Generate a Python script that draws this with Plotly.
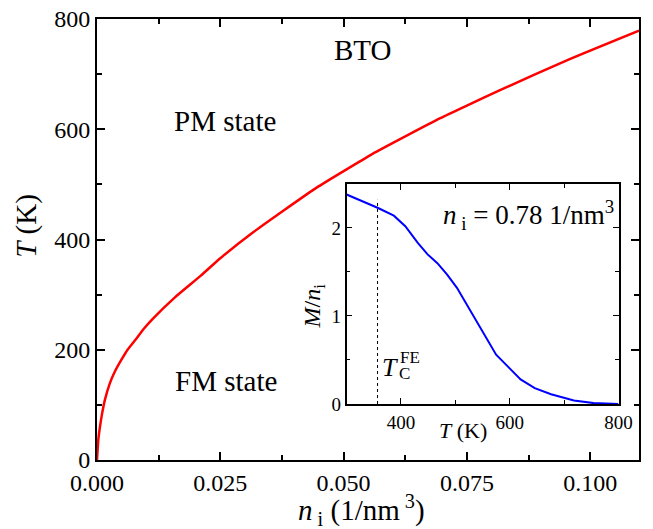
import plotly.graph_objects as go

# Phase boundary T(n_i) for BTO
n_i = [0.0, 0.00026, 0.0006, 0.00105, 0.0016, 0.0026, 0.0036, 0.0049, 0.0062,
       0.0078, 0.0095, 0.0113, 0.0158, 0.021, 0.025, 0.0318, 0.044, 0.05,
       0.0558, 0.0696, 0.075, 0.0815, 0.0955, 0.1099]
T_boundary = [0, 36, 60, 85, 109, 139, 160, 181, 200,
              218, 238, 256, 295, 334, 366, 414, 491, 524,
              555, 620, 643, 670, 726, 779]

# Inset: magnetization per impurity vs temperature at n_i = 0.78 1/nm^3
T_inset = [300, 357, 387, 408, 431, 449, 467, 485, 503, 521, 539, 557, 575,
           599, 620, 646, 676, 718, 754, 800]
M_over_n = [2.38, 2.23, 2.14, 2.02, 1.83, 1.70, 1.60, 1.47, 1.32, 1.13, 0.94,
            0.75, 0.56, 0.41, 0.28, 0.18, 0.11, 0.04, 0.01, 0.0]
T_C_FE = 357

FONT = "Liberation Serif, Times New Roman, Times, serif"

fig = go.Figure()
fig.add_trace(go.Scatter(x=n_i, y=T_boundary, mode="lines", line_shape="spline",
                         line=dict(color="#ff0000", width=2.5, smoothing=0.5),
                         xaxis="x", yaxis="y", showlegend=False))
fig.add_trace(go.Scatter(x=T_inset, y=M_over_n, mode="lines",
                         line=dict(color="#0000ff", width=2),
                         xaxis="x2", yaxis="y2", showlegend=False))
fig.add_trace(go.Scatter(x=[T_C_FE, T_C_FE], y=[0, 2.32], mode="lines",
                         line=dict(color="black", width=1, dash="dot"),
                         xaxis="x2", yaxis="y2", showlegend=False))

main_ax = dict(showline=True, linecolor="black", linewidth=2, mirror="allticks",
               ticks="inside", ticklen=8, tickwidth=1.5, tickcolor="black",
               showgrid=False, zeroline=False,
               tickfont=dict(family=FONT, size=24, color="black"))
inset_ax = dict(showline=True, linecolor="black", linewidth=1.5, mirror="allticks",
                ticks="inside", ticklen=6, tickwidth=1.2, tickcolor="black",
                showgrid=False, zeroline=False,
                tickfont=dict(family=FONT, size=19, color="black"))

xd = [0.4604, 0.9622]
yd = [0.127, 0.6259]

fig.update_layout(
    width=653, height=529,
    margin=dict(l=97, r=0, t=19, b=69),
    paper_bgcolor="white", plot_bgcolor="white",
    font=dict(family=FONT, color="black"),
    xaxis=dict(range=[0, 0.1099], tickvals=[0, 0.025, 0.05, 0.075, 0.1],
               ticktext=["0.000", "0.025", "0.050", "0.075", "0.100"],
               minor=dict(dtick=0.0125, ticks="inside", ticklen=5, tickwidth=1.5, tickcolor="black"),
               **main_ax),
    yaxis=dict(range=[0, 800], tickvals=[0, 200, 400, 600, 800],
               minor=dict(dtick=100, ticks="inside", ticklen=5, tickwidth=1.5, tickcolor="black"),
               **main_ax),
    xaxis2=dict(domain=xd, anchor="y2", range=[300, 800], tickvals=[400, 600, 800],
                minor=dict(dtick=100, ticks="inside", ticklen=4, tickwidth=1.2, tickcolor="black"),
                **inset_ax),
    yaxis2=dict(domain=yd, anchor="x2", range=[0, 2.5], tickvals=[0, 1, 2],
                minor=dict(dtick=0.5, ticks="inside", ticklen=4, tickwidth=1.2, tickcolor="black"),
                **inset_ax),
    shapes=[dict(type="rect", xref="paper", yref="paper", x0=xd[0], x1=xd[1],
                 y0=yd[0], y1=yd[1], fillcolor="white", line=dict(width=0), layer="below")],
)

def px(xp, yp):
    return ((xp - 97) / 556, (460 - yp) / 441)

def txt(xp, yp, s, size, angle=0):
    x0, y0 = px(xp, yp)
    fig.add_annotation(x=x0, y=y0, xref="paper", yref="paper", text=s, showarrow=False,
                       textangle=angle, xanchor="center", yanchor="middle",
                       font=dict(family=FONT, size=size, color="black"))

# Axis titles
txt(368, 510, "<i>n</i><sub> i</sub> (1/nm<sup> 3</sup>)", 29)
txt(25, 226, "<i>T</i> (K)", 29, angle=-90)

# Region labels
txt(369, 50, "BTO", 29)
txt(228, 121, "PM state", 29)
txt(229, 381, "FM state", 29)

# Inset labels
txt(472, 430, "<i>T</i> (K)", 22)
txt(320, 306, "<i>M</i>/<i>n</i><sub>i</sub>", 24, angle=-90)
txt(540, 215, "<i>n</i><sub> i</sub> = 0.78 1/nm<sup>3</sup>", 27)
txt(398, 367, "<i>T</i>", 26)
txt(412, 373, "C", 17)
txt(418, 357, "FE", 17)

fig.write_html("out.html")
